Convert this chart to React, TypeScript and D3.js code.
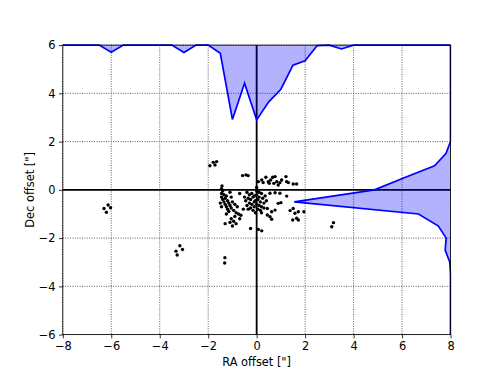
import React, { useEffect, useRef } from 'react'
import * as d3 from 'd3'

// scatter of source offsets (arcsec)
const raOffsets = [
  -6.3, -6.2, -6.13, -6.03,
  -3.17, -3.06, -3.33, -3.28, -1.31, -1.32,
  3.17, 3.10,
  -1.93, -1.79, -1.65, -1.72, -0.58, -0.44, -0.35,
  0.07, 0.21, 0.27, 0.38, 0.48, 0.58, 0.66, 0.76, 0.83, 0.71, 0.96, 0.89, 1.03, 1.21, 1.24, 1.31, 1.51, 1.65, 0.52,
  0.55, 0.76, 0.96, 0.89, 1.0, 1.24, 1.38, 1.58, 1.72, 1.51, 1.65, 1.49, 1.72, 1.95, 0.44, 0.62, 0.76, 0.55, 0.44, 0.62,
  -0.25, 0.07, 0.21,
  -1.45, -1.4, -1.45, -1.35, -1.45, -1.3, -1.4, -1.25, -1.35, -1.2, -1.3, -1.15, -1.25, -1.1, -1.2, -1.05, -1.15, -0.95,
  -1.0, -0.9, -1.05, -0.8, -0.85, -0.75, -0.65, -0.9, -1.05, -0.95, -1.1, -0.85, -1.3, -1.0, -0.7, -1.45, -1.5, -0.55,
  -1.1, -0.7, -1.25, -1.43,
  -0.4, -0.3, -0.2, -0.1, 0.0, 0.1, 0.2, -0.35, -0.25, -0.15, -0.05, 0.05, 0.15, 0.25, 0.3, -0.3, -0.2, -0.1, 0.0,
  0.1, 0.2, -0.4, -0.25, -0.1, 0.05, 0.15, -0.15, 0.35, -0.45, 0.0, 0.1, -0.05, 0.3, 0.4, -0.35, 0.2, -0.5, 0.0
]
const decOffsets = [
  -0.77, -0.93, -0.63, -0.74,
  -2.32, -2.47, -2.54, -2.7, -2.81, -3.03,
  -1.36, -1.53,
  1.0, 1.14, 1.17, 1.03, 0.59, 0.62, 0.59,
  0.34, 0.41, 0.3, 0.52, 0.34, 0.41, 0.52, 0.55, 0.34, 0.27, 0.3, 0.2, 0.41, 0.55, 0.34, 0.3, 0.24, 0.24, 0.27,
  -0.14, -0.12, -0.14, -0.56, -0.53, -0.26, -0.86, -0.97, -0.91, -0.77, -1.18, -1.25, -1.25, -0.91, -0.77, -0.91, -0.84, -1.11, -1.04, -1.22,
  -1.6, -1.64, -1.7,
  0.05, -0.05, -0.15, -0.2, -0.3, -0.35, -0.4, -0.25, -0.5, -0.45, -0.6, -0.55, -0.7, -0.65, -0.8, -0.75, -0.9, -0.85,
  -0.5, -0.6, -0.3, -0.7, -0.95, -1.0, -1.05, -1.1, -1.2, -1.3, -1.35, -1.4, -1.4, -1.5, -1.2, -0.7, -0.55, -0.8,
  -0.1, -0.15, -1.0, 0.16,
  -0.1, -0.2, -0.15, -0.25, -0.2, -0.3, -0.15, -0.35, -0.4, -0.3, -0.45, -0.4, -0.5, -0.35, -0.55, -0.55, -0.6, -0.5, -0.6,
  -0.65, -0.7, -0.65, -0.75, -0.7, -0.8, -0.85, -0.85, -0.25, -0.45, -0.05, -0.1, -0.95, -0.75, -0.45, -0.8, -0.95, -0.3, 0.1
]

// marginal distributions, sampled every 0.5"
const raBins = [-8, -7.5, -7, -6.5, -6, -5.5, -5, -4.5, -4, -3.5, -3, -2.5, -2, -1.5, -1, -0.5, 0,
  0.5, 1, 1.5, 2, 2.5, 3, 3.5, 4, 4.5, 5, 5.5, 6, 6.5, 7, 7.5, 8]
const raDensity = [0, 0, 0, 0, 0.3, 0, 0, 0, 0, 0, 0.31, 0, 0, 0.34, 3.08, 1.58, 3.1,
  2.35, 1.83, 0.83, 0.65, 0.02, 0, 0.16, 0, 0, 0, 0, 0, 0, 0, 0, 0]
const decBins = [-6, -5.5, -5, -4.5, -4, -3.5, -3, -2.5, -2, -1.5, -1, -0.5, 0,
  0.5, 1, 1.5, 2, 2.5, 3, 3.5, 4, 4.5, 5, 5.5, 6]
const decDensity = [0, 0, 0, 0, 0, 0, 0.03, 0.22, 0.18, 0.5, 1.32, 6.45, 3.14,
  1.91, 0.66, 0.19, 0, 0, 0, 0, 0, 0, 0, 0, 0]

const xTicks = [-8, -6, -4, -2, 0, 2, 4, 6, 8]
const yTicks = [-6, -4, -2, 0, 2, 4, 6]

export default function App() {
  const ref = useRef<SVGSVGElement>(null)

  useEffect(() => {
    const W = 501, H = 376
    const m = { top: 45.1, left: 62.8, right: 50.5, bottom: 41.4 }
    const w = W - m.left - m.right
    const h = H - m.top - m.bottom
    const font = 'DejaVu Sans, sans-serif'
    const fs = 11.4

    const svg = d3.select(ref.current)
    svg.selectAll('*').remove()

    const x = d3.scaleLinear().domain([-8, 8]).range([0, w])
    const y = d3.scaleLinear().domain([-6, 6]).range([h, 0])

    svg.append('defs').append('clipPath').attr('id', 'plot-clip')
      .append('rect').attr('x', -1).attr('y', -1).attr('width', w + 2).attr('height', h + 2)

    const g = svg.append('g').attr('transform', `translate(${m.left},${m.top})`)

    // grid
    const grid = g.append('g')
    grid.selectAll('line.gx').data(xTicks).enter().append('line')
      .attr('x1', d => x(d)).attr('x2', d => x(d)).attr('y1', 0).attr('y2', h)
      .attr('stroke', '#333').attr('stroke-width', 0.8).attr('stroke-dasharray', '1,1.4')
    grid.selectAll('line.gy').data(yTicks).enter().append('line')
      .attr('y1', d => y(d)).attr('y2', d => y(d)).attr('x1', 0).attr('x2', w)
      .attr('stroke', '#333').attr('stroke-width', 0.8).attr('stroke-dasharray', '1,1.4')

    // zero lines
    g.append('line').attr('x1', x(0)).attr('x2', x(0)).attr('y1', 0).attr('y2', h)
      .attr('stroke', '#000').attr('stroke-width', 1.8)
    g.append('line').attr('y1', y(0)).attr('y2', y(0)).attr('x1', 0).attr('x2', w)
      .attr('stroke', '#000').attr('stroke-width', 1.8)

    const plot = g.append('g').attr('clip-path', 'url(#plot-clip)')

    // top marginal (RA)
    const topArea = d3.area<number>()
      .x((d, i) => x(raBins[i]))
      .y0(y(6))
      .y1(d => y(6 - d))
    const topLine = d3.line<number>()
      .x((d, i) => x(raBins[i]))
      .y(d => y(6 - d))
    plot.append('path').datum(raDensity).attr('d', topArea)
      .attr('fill', 'blue').attr('fill-opacity', 0.3)
    plot.append('path').datum(raDensity).attr('d', topLine)
      .attr('fill', 'none').attr('stroke', 'blue').attr('stroke-width', 1.7)

    // right marginal (Dec)
    const sideArea = d3.area<number>()
      .y((d, i) => y(decBins[i]))
      .x0(x(8))
      .x1(d => x(8 - d))
    const sideLine = d3.line<number>()
      .y((d, i) => y(decBins[i]))
      .x(d => x(8 - d))
    plot.append('path').datum(decDensity).attr('d', sideArea)
      .attr('fill', 'blue').attr('fill-opacity', 0.3)
    plot.append('path').datum(decDensity).attr('d', sideLine)
      .attr('fill', 'none').attr('stroke', 'blue').attr('stroke-width', 1.7)

    // points
    plot.selectAll('circle').data(raOffsets).enter().append('circle')
      .attr('cx', d => x(d))
      .attr('cy', (d, i) => y(decOffsets[i]))
      .attr('r', 1.7)
      .attr('fill', '#000')

    // axes
    const fmt = (d: any) => d3.format('d')(d as number).replace('-', '\u2212')
    const xAxis = g.append('g').attr('transform', `translate(0,${h})`)
      .call(d3.axisBottom(x).tickValues(xTicks).tickSize(3.8).tickPadding(3.9).tickFormat(fmt))
    const yAxis = g.append('g')
      .call(d3.axisLeft(y).tickValues(yTicks).tickSize(3.8).tickPadding(3.5).tickFormat(fmt))
    for (const ax of [xAxis, yAxis]) {
      ax.select('.domain').remove()
      ax.selectAll('line').attr('stroke', '#000').attr('stroke-width', 0.8)
      ax.selectAll('text').attr('font-family', font).attr('font-size', fs).attr('fill', '#000')
    }

    // frame
    g.append('rect').attr('width', w).attr('height', h)
      .attr('fill', 'none').attr('stroke', '#000').attr('stroke-width', 0.8)

    // labels
    svg.append('text')
      .attr('x', m.left + w / 2).attr('y', 366)
      .attr('text-anchor', 'middle')
      .attr('font-family', font).attr('font-size', fs)
      .text('RA offset ["]')
    svg.append('text')
      .attr('transform', `translate(33.5,${m.top + h / 2}) rotate(-90)`)
      .attr('text-anchor', 'middle')
      .attr('font-family', font).attr('font-size', fs)
      .text('Dec offset ["]')
  }, [])

  return (
    <svg ref={ref} width={501} height={376}
      style={{ position: 'absolute', left: 0, top: 0, background: '#fff' }} />
  )
}
